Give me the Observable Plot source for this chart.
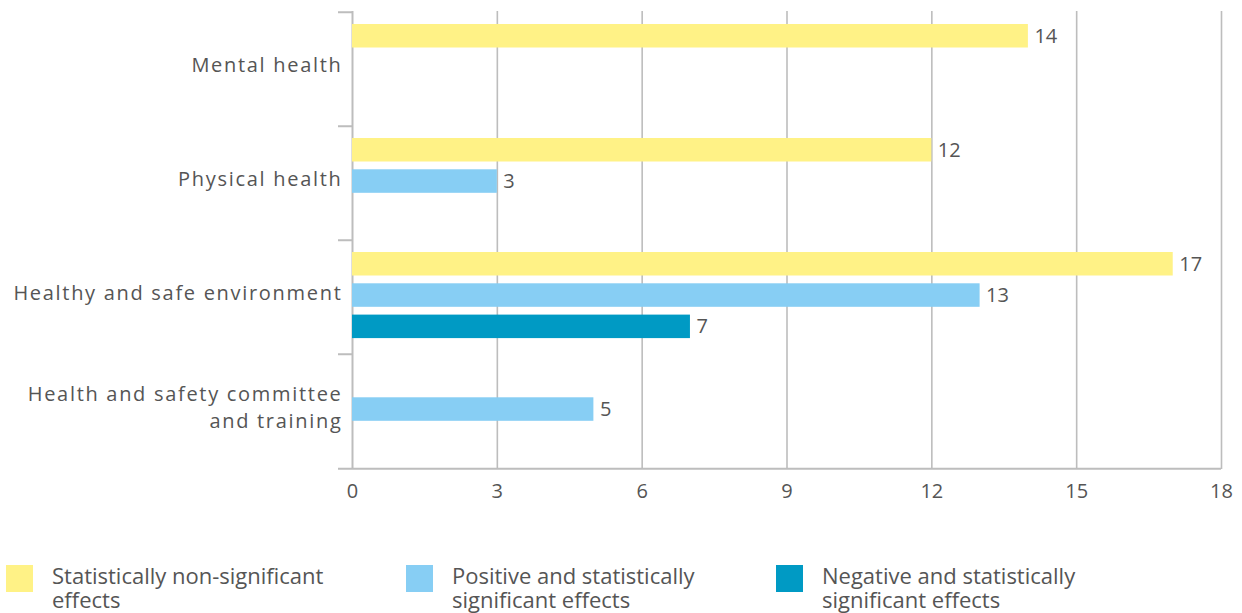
<!DOCTYPE html>
<html>
<head>
<meta charset="utf-8">
<script src="https://cdn.jsdelivr.net/npm/d3@7"></script>
<script src="https://cdn.jsdelivr.net/npm/@observablehq/plot@0.6"></script>
<style>
  html, body { margin: 0; padding: 0; background: #fff; }
  #chart { width: 1242px; }
  #chart g[aria-label="y-axis tick label"] { letter-spacing: 1.7px; }
  .legend { padding-top: 43px; font-family: "Open Sans", sans-serif; font-size: 22px; color: #555; line-height: 24px; }
  .legend .item { display: flex; align-items: flex-start; }
  .legend .swatch { width: 27px; height: 27px; flex: none; margin-top: 2px; }
  .legend .label { margin-left: 19px; width: 300px; }
</style>
</head>
<body>
<div id="chart"></div>
<script>
// Categories (top to bottom) and the three result groups
const categories = [
  "Mental health",
  "Physical health",
  "Healthy and safe environment",
  "Health and safety committee\nand training"
];
const seriesNames = [
  "Statistically non-significant effects",
  "Positive and statistically significant effects",
  "Negative and statistically significant effects"
];
const seriesColors = ["#FFF286", "#87CEF4", "#009AC4"];

// Number of effects per category, one array per group
const nonSignificant = [14, 12, 17, null];
const positive = [null, 3, 13, 5];
const negative = [null, null, 7, null];

const xTicks = [0, 3, 6, 9, 12, 15, 18];

const seriesValues = [nonSignificant, positive, negative];
const rows = seriesValues.flatMap((vals, s) =>
  categories.map((c, i) => ({category: c, series: seriesNames[s], s, value: vals[i]}))
    .filter(d => d.value != null)
);

const width = 1242, height = 520;
const marginTop = 11, marginBottom = 51, marginLeft = 352, marginRight = 21;
const band = (height - marginTop - marginBottom) / categories.length;
// three slots per category band
const slotStep = 31.3, slotFirst = 24, barH = 24;
const slotCenter = s => slotFirst + s * slotStep;

const lineColor = "#bdbdbd";
const font = "Open Sans, sans-serif";

const marks = [
  // vertical grid lines
  Plot.ruleX(xTicks.slice(1), {stroke: lineColor, strokeWidth: 1.6}),
  // left axis line
  Plot.ruleX([0], {stroke: lineColor, strokeWidth: 2}),
  // bottom axis line
  Plot.ruleY([categories[categories.length - 1]], {stroke: lineColor, strokeWidth: 2, dy: band / 2, insetLeft: -14}),
  // boundary ticks between categories
  Plot.ruleY(categories, {x1: 0, x2: 0, insetLeft: -14, stroke: lineColor, strokeWidth: 2, dy: -band / 2}),
];

seriesNames.forEach((name, s) => {
  const data = rows.filter(d => d.s === s);
  marks.push(
    Plot.barX(data, {
      x: "value", y: "category", fill: seriesColors[s],
      insetTop: slotCenter(s) - barH / 2,
      insetBottom: band - slotCenter(s) - barH / 2
    }),
    Plot.text(data, {
      x: "value", y: "category", text: d => String(d.value),
      dy: slotCenter(s) - band / 2, dx: 6, textAnchor: "start",
      fill: "#555", fontSize: 20
    })
  );
});

marks.push(
  Plot.axisX({ticks: xTicks, tickSize: 0, tickPadding: 14, fontSize: 20, label: null, fill: "#555"}),
  Plot.axisY({tickSize: 0, tickPadding: 10, fontSize: 20, lineHeight: 1.35, dy: -6, label: null, fill: "#555"})
);

const chart = Plot.plot({
  width, height, marginTop, marginBottom, marginLeft, marginRight,
  style: {fontFamily: font, color: "#555", background: "#fff"},
  x: {domain: [0, 18]},
  y: {type: "band", domain: categories, padding: 0},
  marks
});
document.getElementById("chart").appendChild(chart);

// legend below the chart
const legend = document.createElement("div");
legend.className = "legend";
const offsets = [6, 406, 776];
seriesNames.forEach((name, s) => {
  const item = document.createElement("div");
  item.className = "item";
  item.style.position = "absolute";
  item.style.left = offsets[s] + "px";
  const sw = document.createElement("div");
  sw.className = "swatch";
  sw.style.background = seriesColors[s];
  const lab = document.createElement("div");
  lab.className = "label";
  lab.textContent = name;
  item.appendChild(sw);
  item.appendChild(lab);
  legend.appendChild(item);
});
document.getElementById("chart").appendChild(legend);
</script>
</body>
</html>
